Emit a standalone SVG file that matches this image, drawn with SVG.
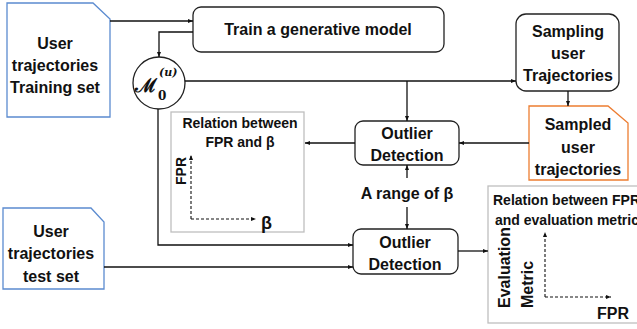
<svg xmlns="http://www.w3.org/2000/svg" width="637" height="329" viewBox="0 0 637 329">
<style>
text{font-family:"Liberation Sans",Arial,sans-serif;font-weight:bold;fill:#111;}
.t16{font-size:16px;text-anchor:middle;}
.t14{font-size:14px;text-anchor:middle;}
.box{fill:#fff;stroke:#222;stroke-width:1.3;}
.doc{fill:#fff;stroke-width:1.3;}
.gbox{fill:#fff;stroke:#bfbfbf;stroke-width:1.3;}
.ln{fill:none;stroke:#111;stroke-width:1.3;}
.dash{fill:none;stroke:#111;stroke-width:1.1;stroke-dasharray:3 2;}
.math{font-family:"DejaVu Serif",serif;font-weight:bold;}
</style>
<defs>
<marker id="ah" viewBox="0 0 10 10" refX="10" refY="5" markerWidth="5" markerHeight="5" orient="auto" markerUnits="userSpaceOnUse">
<path d="M0,1 L10,5 L0,9 z" fill="#111"/>
</marker>
</defs>
<rect width="637" height="329" fill="#fff"/>

<g id="train-set">
<path class="doc" stroke="#5b8bd0" d="M7,3 H93 L110,19 V117 H7 Z"/>
<text class="t16" x="55" y="49">User</text>
<text class="t16" x="55" y="71">trajectories</text>
<text class="t16" x="55" y="93">Training set</text>
</g>

<g id="train-model">
<rect class="box" x="193" y="7" width="251" height="45" rx="8"/>
<text class="t16" x="318" y="35">Train a generative model</text>
</g>

<g id="model">
<circle class="box" cx="159" cy="83" r="26"/>
<text class="math" x="135" y="92" style="font-size:19px;">ℳ</text>
<text class="math" x="158" y="100" style="font-size:12px;">0</text>
<text class="math" x="159" y="76" style="font-size:11px;font-style:italic;">(u)</text>
</g>

<g id="sampling">
<rect class="box" x="516" y="14" width="103" height="77" rx="10"/>
<text class="t16" x="568" y="37">Sampling</text>
<text class="t16" x="568" y="59">user</text>
<text class="t16" x="568" y="81">Trajectories</text>
</g>

<g id="sampled">
<path class="doc" stroke="#ed7d31" d="M529,106 H608 L628,123 V180 H529 Z"/>
<text class="t16" x="578" y="130">Sampled</text>
<text class="t16" x="578" y="153">user</text>
<text class="t16" x="578" y="175">trajectories</text>
</g>

<g id="outlier1">
<rect class="box" x="355" y="121" width="104" height="44" rx="8"/>
<text class="t16" x="407" y="139">Outlier</text>
<text class="t16" x="407" y="161">Detection</text>
</g>

<g id="fpr-beta">
<rect class="gbox" x="171" y="112" width="133" height="120"/>
<text class="t14" x="240" y="128">Relation between</text>
<text class="t14" x="240" y="147">FPR and β</text>
<text class="t14" transform="translate(186,171) rotate(-90)">FPR</text>
<text x="261" y="229" style="font-size:18px;">β</text>
</g>

<g id="range">
<text class="t16" x="407" y="199">A range of β</text>
</g>

<g id="outlier2">
<rect class="box" x="353" y="229" width="105" height="45" rx="8"/>
<text class="t16" x="405" y="248">Outlier</text>
<text class="t16" x="405" y="270">Detection</text>
</g>

<g id="test-set">
<path class="doc" stroke="#5b8bd0" d="M3,208 H91 L104,222 V289 H3 Z"/>
<text class="t16" x="51" y="237">User</text>
<text class="t16" x="51" y="259">trajectories</text>
<text class="t16" x="51" y="282">test set</text>
</g>

<g id="fpr-metric">
<rect class="gbox" x="488" y="186" width="160" height="137"/>
<text x="493" y="205" style="font-size:14px;">Relation between FPR</text>
<text x="495" y="225" style="font-size:14px;">and evaluation metric</text>
<text transform="translate(510,308) rotate(-90)" style="font-size:16px;">Evaluation</text>
<text transform="translate(533,308) rotate(-90)" style="font-size:16px;">Metric</text>
<text x="597" y="319" style="font-size:16px;">FPR</text>
</g>

<g id="connectors">
<path class="ln" d="M110,21 H193" marker-end="url(#ah)"/>
<path class="ln" d="M193,32 H159 V57" marker-end="url(#ah)"/>
<path class="ln" d="M185,81 H516" marker-end="url(#ah)"/>
<path class="ln" d="M407,81 V121" marker-end="url(#ah)"/>
<path class="ln" d="M568,91 V106" marker-end="url(#ah)"/>
<path class="ln" d="M529,143 H459" marker-end="url(#ah)"/>
<path class="ln" d="M355,143 H305" marker-end="url(#ah)"/>
<path class="ln" d="M407,178 V165" marker-end="url(#ah)"/>
<path class="ln" d="M407,207 V229" marker-end="url(#ah)"/>
<path class="ln" d="M158,109 V245 H353" marker-end="url(#ah)"/>
<path class="ln" d="M104,267 H353" marker-end="url(#ah)"/>
<path class="ln" d="M458,251 H488" marker-end="url(#ah)"/>
<path class="dash" d="M191,219 V155" marker-end="url(#ah)"/>
<path class="dash" d="M191,219 H256" marker-end="url(#ah)"/>
<path class="dash" d="M545,297 V232" marker-end="url(#ah)"/>
<path class="dash" d="M545,297 H611" marker-end="url(#ah)"/>
</g>
</svg>
